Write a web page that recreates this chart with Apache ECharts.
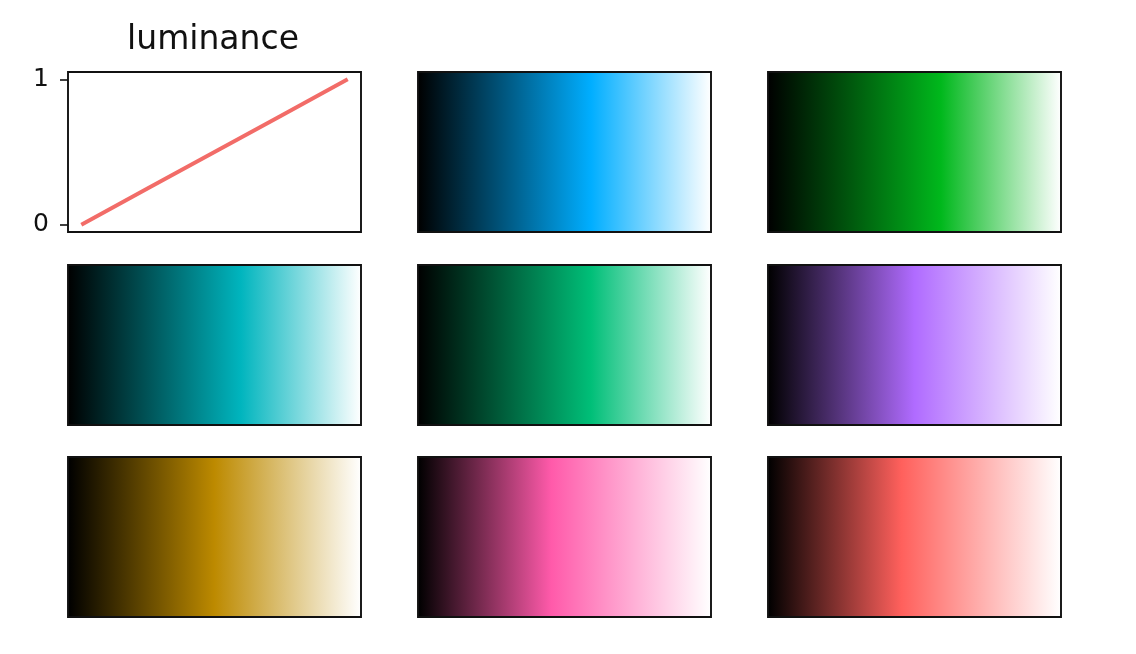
<!DOCTYPE html>
<html>
<head>
<meta charset="utf-8">
<script src="https://cdn.jsdelivr.net/npm/echarts@6/dist/echarts.min.js"></script>
<style>
  html, body { margin: 0; padding: 0; background: #ffffff; }
  #chart { width: 1136px; height: 654px; }
</style>
</head>
<body>
<div id="chart"></div>
<script>
// ---- data ----
const luminanceX = [0, 0.25, 0.5, 0.75, 1];
const luminanceY = [0, 0.25, 0.5, 0.75, 1];
const yTickValues = [0, 1];
const titleText = 'luminance';

// colormaps: black -> peak colour -> white
const cmapPeakColors = ['#00aeff', '#00b81c', '#00b5be', '#00bf78', '#b06bff', '#bd8a00', '#ff5aaa', '#ff605c'];
const cmapPeakPositions = [0.59, 0.59, 0.59, 0.59, 0.5, 0.5, 0.455, 0.455];
const cmapStartColor = '#000000';
const cmapEndColor = '#ffffff';
const swatchX = [0, 1];
const swatchY = [1, 1];

// ---- layout ----
const colLefts = [68, 418, 768];
const rowTops = [72, 265, 457];
const panelW = 293, panelH = 160;

const grids = [], xAxes = [], yAxes = [], series = [];
for (let p = 0; p < 9; p++) {
  const r = Math.floor(p / 3), c = p % 3;
  grids.push({
    left: colLefts[c], top: rowTops[r], width: panelW, height: panelH,
    show: true, borderColor: '#111', borderWidth: 1.9, backgroundColor: 'transparent',
    containLabel: false, z: 5
  });
  const isLum = p === 0;
  xAxes.push({
    gridIndex: p, type: 'value',
    min: isLum ? -0.05 : 0, max: isLum ? 1.05 : 1,
    show: true,
    axisLine: { show: false, onZero: false }, axisTick: { show: false },
    axisLabel: { show: false }, splitLine: { show: false }
  });
  yAxes.push({
    gridIndex: p, type: 'value',
    min: isLum ? -0.05 : 0, max: isLum ? 1.05 : 1,
    show: true,
    axisLine: { show: false, onZero: false },
    axisTick: isLum ? { show: true, inside: false, customValues: yTickValues, length: 8, lineStyle: { color: '#111', width: 1.6 } } : { show: false },
    axisLabel: isLum ? { show: true, customValues: yTickValues, color: '#111', fontFamily: 'DejaVu Sans', fontSize: 25, margin: 19 } : { show: false },
    splitLine: { show: false }
  });
  if (isLum) {
    series.push({
      type: 'line', xAxisIndex: p, yAxisIndex: p,
      data: luminanceX.map((x, i) => [x, luminanceY[i]]),
      showSymbol: false, silent: true,
      lineStyle: { color: '#f26c68', width: 4 },
      animation: false
    });
  } else {
    const k = p - 1;
    series.push({
      type: 'line', xAxisIndex: p, yAxisIndex: p,
      data: swatchX.map((x, i) => [x, swatchY[i]]),
      showSymbol: false, silent: true,
      lineStyle: { width: 0 },
      areaStyle: {
        opacity: 1, origin: 'start',
        color: new echarts.graphic.LinearGradient(0, 0, 1, 0, [
          { offset: 0, color: cmapStartColor },
          { offset: cmapPeakPositions[k], color: cmapPeakColors[k] },
          { offset: 1, color: cmapEndColor }
        ])
      },
      z: 1,
      animation: false
    });
  }
}

const chart = echarts.init(document.getElementById('chart'), null, { renderer: 'canvas' });
chart.setOption({
  backgroundColor: '#ffffff',
  animation: false,
  title: {
    text: titleText, left: 208, top: 19, textAlign: 'center',
    textStyle: { fontFamily: 'DejaVu Sans', fontSize: 33, fontWeight: 'normal', color: '#111' }
  },
  grid: grids, xAxis: xAxes, yAxis: yAxes, series: series
});
</script>
</body>
</html>
